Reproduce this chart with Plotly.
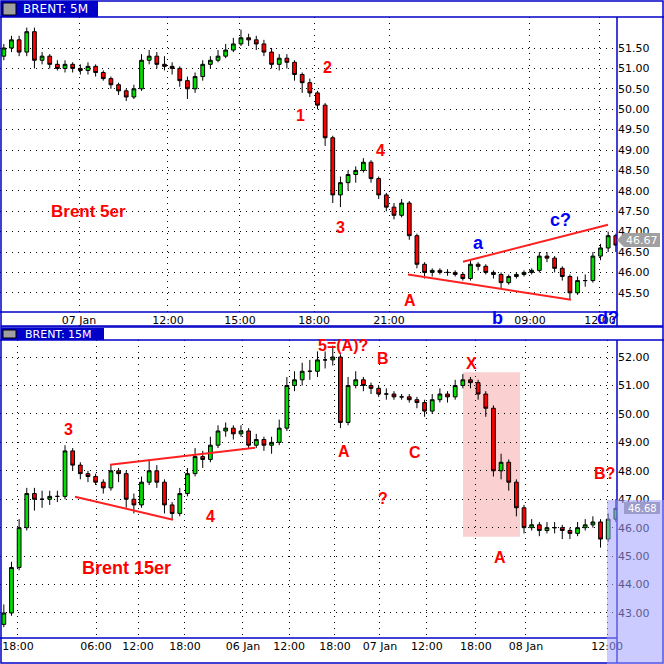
import plotly.graph_objects as go

W = H = 664
PX = 7.65  # pixels per bar

# ---- top panel: BRENT 5M ----
top_first_open = 51.3
top_close = [51.5, 51.7, 51.4, 51.9, 51.2, 51.3, 51.1, 51.0, 51.1, 51.0,
             50.95, 51.05, 50.9, 50.75, 50.6, 50.45, 50.3, 50.5, 51.2, 51.3,
             51.1, 51.05, 51.0, 50.7, 50.5, 50.8, 51.1, 51.2, 51.3, 51.45,
             51.6, 51.75, 51.7, 51.6, 51.4, 51.1, 51.25, 51.15, 50.85, 50.65,
             50.4, 50.1, 49.3, 47.9, 48.2, 48.4, 48.5, 48.7, 48.3, 47.9,
             47.6, 47.4, 47.7, 46.9, 46.2, 46.0, 46.05, 46.0, 46.0, 45.95,
             45.85, 46.2, 46.15, 46.0, 45.95, 45.75, 45.9, 45.95, 46.0, 46.05,
             46.4, 46.35, 46.1, 45.9, 45.5, 45.8, 45.8, 46.4, 46.6, 46.9, 46.67]
top_high = [51.6, 51.8, 51.8, 52.0, 52.0, 51.4, 51.35, 51.2, 51.2, 51.15,
            51.1, 51.15, 51.1, 50.95, 50.8, 50.65, 50.5, 50.6, 51.35, 51.45,
            51.4, 51.3, 51.15, 51.05, 50.8, 50.9, 51.2, 51.3, 51.45, 51.6,
            51.75, 51.95, 51.85, 51.8, 51.7, 51.5, 51.35, 51.35, 51.2, 50.9,
            50.75, 50.45, 50.15, 49.35, 48.35, 48.5, 48.6, 48.8, 48.75, 48.35,
            47.95, 47.7, 47.8, 47.75, 46.95, 46.25, 46.1, 46.1, 46.08, 46.05,
            46.0, 46.3, 46.25, 46.2, 46.05, 46.0, 45.95, 46.0, 46.05, 46.1,
            46.5, 46.5, 46.4, 46.15, 45.95, 45.9, 45.95, 46.5, 46.7, 47.0, 46.95]
top_low = [51.2, 51.4, 51.3, 51.3, 51.0, 51.1, 51.0, 50.95, 50.9, 50.9,
           50.85, 50.85, 50.8, 50.7, 50.5, 50.35, 50.2, 50.25, 50.45, 51.1,
           51.0, 50.95, 50.85, 50.55, 50.25, 50.4, 50.7, 51.0, 51.15, 51.25,
           51.4, 51.55, 51.55, 51.45, 51.3, 51.0, 50.95, 51.0, 50.7, 50.4,
           50.3, 50.0, 49.1, 47.7, 47.6, 48.0, 48.2, 48.45, 48.2, 47.8,
           47.5, 47.3, 47.35, 46.8, 46.1, 45.85, 45.9, 45.95, 45.92, 45.9,
           45.8, 45.8, 46.05, 45.95, 45.85, 45.6, 45.7, 45.85, 45.9, 45.95,
           46.0, 46.25, 46.0, 45.8, 45.35, 45.45, 45.65, 45.75, 46.3, 46.5, 46.5]
top_tick_pos = [9.83, 21.46, 30.87, 40.55, 50.35, 68.78, 77.93]
top_tick_text = ["07 Jan", "12:00", "15:00", "18:00", "21:00", "09:00", "12:00"]
top_price_ticks = [45.5, 46.0, 46.5, 47.0, 47.5, 48.0, 48.5, 49.0, 49.5, 50.0, 50.5, 51.0, 51.5]

# ---- bottom panel: BRENT 15M ----
bot_first_open = 42.6
bot_close = [43.0, 44.6, 46.0, 47.2, 47.0, 47.0, 47.1, 47.1, 48.7, 48.2,
             47.9, 47.8, 47.6, 47.4, 48.0, 47.9, 47.0, 46.8, 47.6, 48.0,
             47.6, 46.8, 46.5, 47.2, 47.9, 48.5, 48.4, 48.9, 49.4, 49.5,
             49.3, 49.4, 48.9, 49.1, 48.9, 49.0, 49.5, 51.0, 51.2, 51.5,
             51.5, 51.9, 51.9, 52.0, 49.7, 51.0, 51.2, 51.0, 50.9, 50.7,
             50.7, 50.6, 50.6, 50.5, 50.4, 50.1, 50.5, 50.7, 50.6, 51.0,
             51.2, 51.1, 50.7, 50.2, 48.0, 48.3, 47.6, 46.7, 46.0, 46.1,
             45.9, 46.0, 46.0, 45.9, 45.8, 46.0, 46.1, 46.2, 45.6, 46.3, 46.68]
bot_high = [43.3, 44.8, 46.3, 47.4, 47.4, 47.3, 47.3, 47.3, 48.9, 48.8,
            48.3, 48.0, 47.9, 47.7, 48.2, 48.1, 48.0, 47.2, 47.8, 48.4,
            48.2, 47.7, 46.9, 47.4, 48.1, 48.8, 48.7, 49.2, 49.6, 49.7,
            49.6, 49.6, 49.5, 49.3, 49.2, 49.2, 49.8, 51.3, 51.5, 51.8,
            51.9, 52.2, 52.2, 52.4, 52.1, 51.3, 51.5, 51.3, 51.1, 51.0,
            50.9, 50.8, 50.7, 50.7, 50.6, 50.5, 50.7, 50.9, 50.8, 51.2,
            51.4, 51.3, 51.2, 50.8, 50.3, 48.6, 48.4, 47.7, 46.8, 46.3,
            46.2, 46.2, 46.2, 46.1, 46.0, 46.2, 46.3, 46.4, 46.3, 46.5, 47.0]
bot_low = [42.5, 42.9, 44.5, 45.9, 46.6, 46.7, 46.8, 46.9, 47.0, 48.0,
           47.7, 47.6, 47.5, 47.2, 47.3, 47.6, 46.7, 46.5, 46.7, 47.5,
           47.4, 46.5, 46.3, 46.4, 47.1, 47.8, 48.1, 48.3, 48.8, 49.2,
           49.1, 49.2, 48.8, 48.8, 48.7, 48.6, 48.9, 49.4, 50.8, 51.0,
           51.2, 51.3, 51.6, 51.7, 49.5, 49.6, 50.9, 50.8, 50.7, 50.6,
           50.5, 50.5, 50.5, 50.4, 50.2, 49.9, 50.0, 50.4, 50.4, 50.5,
           50.9, 50.9, 50.5, 49.9, 47.8, 47.7, 47.3, 46.4, 45.8, 45.9,
           45.7, 45.8, 45.8, 45.6, 45.6, 45.7, 45.9, 46.0, 45.3, 45.5, 46.2]
bot_tick_pos = [1.85, 12.05, 17.54, 23.68, 31.26, 37.28, 43.29, 49.17, 55.3, 61.7, 68.25, 78.85]
bot_tick_text = ["18:00", "06:00", "12:00", "18:00", "06 Jan", "12:00", "18:00",
                 "07 Jan", "12:00", "18:00", "08 Jan", "12:00"]
bot_price_ticks = [43, 44, 45, 46, 47, 48, 49, 50, 51, 52]

top_open = [top_first_open] + top_close[:-1]
bot_open = [bot_first_open] + bot_close[:-1]


def px_x(p):
    return p / W


def px_y(p):
    return 1 - p / H


def bar_x(p):
    return p / PX - 0.5


candle_style = dict(
    increasing=dict(fillcolor="#00e000", line=dict(color="black", width=1)),
    decreasing=dict(fillcolor="#ff0000", line=dict(color="black", width=1)),
    whiskerwidth=0, showlegend=False, hoverinfo="skip",
)

fig = go.Figure()
fig.add_trace(go.Candlestick(x=list(range(len(top_close))), open=top_open, high=top_high,
                             low=top_low, close=top_close, xaxis="x", yaxis="y", **candle_style))
fig.add_trace(go.Candlestick(x=list(range(len(bot_close))), open=bot_open, high=bot_high,
                             low=bot_low, close=bot_close, xaxis="x2", yaxis="y2", **candle_style))

ax_common = dict(showgrid=True, gridcolor="#000000", griddash="1px,5px", gridwidth=1.3,
                 zeroline=False, ticks="", automargin=False,
                 tickfont=dict(family="DejaVu Sans", size=11, color="black"),
                 showline=False, fixedrange=True)
xrange = [-0.5, 617 / PX - 0.5]

fig.update_layout(
    width=W, height=H, margin=dict(l=0, r=0, t=0, b=0),
    paper_bgcolor="white", plot_bgcolor="white",
    xaxis=dict(domain=[0, 617 / W], range=xrange, anchor="y", tickvals=top_tick_pos,
               ticktext=top_tick_text, rangeslider=dict(visible=False), **ax_common),
    yaxis=dict(domain=[px_y(312), px_y(17)], range=[45.03, 52.26], side="right", anchor="x",
               tickvals=top_price_ticks, tickformat=".2f", **ax_common),
    xaxis2=dict(domain=[0, 617 / W], range=xrange, anchor="y2", tickvals=bot_tick_pos,
                ticktext=bot_tick_text, rangeslider=dict(visible=False), **ax_common),
    yaxis2=dict(domain=[px_y(638), px_y(340)], range=[42.12, 52.60], side="right", anchor="x2",
                tickvals=bot_price_ticks, tickformat=".2f", **ax_common),
)

shapes = []
blue = "#0000c8"
# frames
for y0, y1 in [(1, 326), (327, 663)]:
    shapes.append(dict(type="rect", xref="paper", yref="paper", x0=px_x(1), x1=px_x(663),
                       y0=px_y(y1), y1=px_y(y0), line=dict(color=blue, width=1.5)))
for yy, full in [(17, True), (312, False), (340, True), (638, False)]:
    shapes.append(dict(type="line", xref="paper", yref="paper", x0=0, x1=1 if full else px_x(617),
                       y0=px_y(yy), y1=px_y(yy), line=dict(color=blue, width=1.5)))
for (y0, y1) in [(17, 326), (340, 663)]:
    shapes.append(dict(type="line", xref="paper", yref="paper", x0=px_x(617), x1=px_x(617),
                       y0=px_y(y1), y1=px_y(y0), line=dict(color=blue, width=1.5)))
# header boxes
for y0, y1, w in [(1, 17, 98), (328, 340, 104)]:
    shapes.append(dict(type="rect", xref="paper", yref="paper", x0=px_x(1), x1=px_x(w),
                       y0=px_y(y1), y1=px_y(y0), fillcolor=blue, line=dict(width=0)))
    shapes.append(dict(type="rect", xref="paper", yref="paper", x0=px_x(3), x1=px_x(16),
                       y0=px_y(y1 - 2), y1=px_y(y0 + 2), fillcolor="#a0a0a0", line=dict(color="black", width=1)))
# highlighted zones
shapes.append(dict(type="rect", xref="x2", yref="y2", x0=bar_x(463), x1=bar_x(520), y0=45.68, y1=51.47,
                   fillcolor="rgba(245,150,150,0.45)", line=dict(width=0), layer="below"))
shapes.append(dict(type="rect", xref="paper", yref="paper", x0=px_x(607), x1=1, y0=0, y1=px_y(500),
                   fillcolor="rgba(160,160,255,0.55)", line=dict(width=0)))
# trend lines
red = "#ff2020"
for (xa, ya, xb, yb, xr, yr) in [
    (408, 45.95, 571, 45.33, "x", "y"), (463, 46.26, 608, 47.17, "x", "y"),
    (75, 47.09, 173, 46.28, "x2", "y2"), (110, 48.21, 255, 48.81, "x2", "y2")]:
    shapes.append(dict(type="line", xref=xr, yref=yr, x0=bar_x(xa), x1=bar_x(xb), y0=ya, y1=yb,
                       line=dict(color=red, width=2)))
# price tags
shapes.append(dict(type="rect", xref="paper", yref="paper", x0=px_x(624), x1=px_x(660),
                   y0=px_y(247), y1=px_y(233), fillcolor="#a0a0a0", line=dict(width=0)))
shapes.append(dict(type="path", xref="paper", yref="paper",
                   path=f"M {px_x(617)},{px_y(240)} L {px_x(624)},{px_y(233)} L {px_x(624)},{px_y(247)} Z",
                   fillcolor="#a0a0a0", line=dict(width=0)))
shapes.append(dict(type="rect", xref="paper", yref="paper", x0=px_x(624), x1=px_x(660),
                   y0=px_y(514), y1=px_y(502), fillcolor="#9c9ccc", line=dict(width=0)))
fig.update_layout(shapes=shapes)

ann = []


def label(x, y, text, color="#ff0000", size=16, bold=True, family="Liberation Sans"):
    t = f"<b>{text}</b>" if bold else text
    ann.append(dict(xref="paper", yref="paper", x=px_x(x), y=px_y(y), text=t, showarrow=False,
                    font=dict(family=family, size=size, color=color), xanchor="center", yanchor="middle"))


label(55, 9, "BRENT: 5M", color="white", size=12, bold=False, family="DejaVu Sans")
label(58, 334, "BRENT: 15M", color="white", size=11, bold=False, family="DejaVu Sans")
label(642, 240, "46.67", color="white", size=11, bold=False, family="DejaVu Sans")
label(642, 508, "46.68", color="white", size=10, bold=False, family="DejaVu Sans")
for x, y, t in [(300, 116, "1"), (327, 67, "2"), (341, 227, "3"), (380, 150, "4"), (410, 300, "A")]:
    label(x, y, t)
label(88, 212, "Brent 5er", size=17)
for x, y, t in [(478, 243, "a"), (497, 318, "b"), (560, 220, "c?"), (608, 318, "d?")]:
    label(x, y, t, color="#0000ff", size=18)
for x, y, t in [(68, 430, "3"), (210, 516, "4"), (343, 345, "5=(A)?"), (383, 359, "B"), (471, 363, "X"),
                (344, 451, "A"), (415, 452, "C"), (383, 498, "?"), (500, 557, "A"), (604, 473, "B?")]:
    label(x, y, t)
label(126, 568, "Brent 15er", size=18)
fig.update_layout(annotations=ann)

fig.write_html("out.html", config={"displayModeBar": False},
               post_script="document.body.style.margin='0';")
